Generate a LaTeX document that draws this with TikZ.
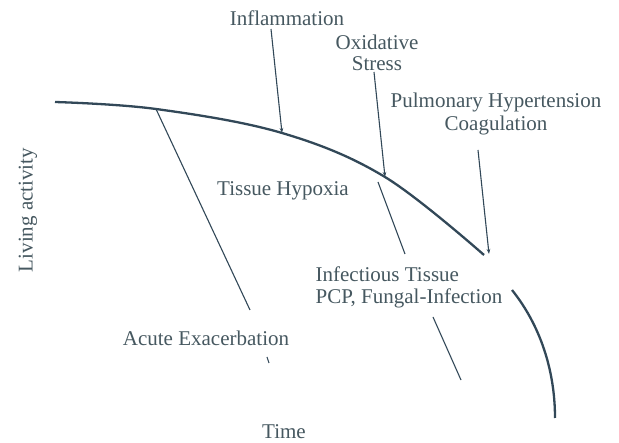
\documentclass[tikz,border=0pt]{standalone}
\usepackage{fontspec}
\setmainfont{Liberation Serif}
\usetikzlibrary{arrows.meta}
\definecolor{ink}{RGB}{70,88,96}
\definecolor{lineink}{RGB}{50,72,88}
\begin{document}
\begin{tikzpicture}[x=1pt,y=-1pt,
  lbl/.style={text=ink,font=\fontsize{21}{25}\selectfont,inner sep=0pt,align=center},
  curveline/.style={draw=lineink,line width=2.3pt},
  conn/.style={draw=lineink,line width=1.1pt},
  arr/.style={conn,-{Stealth[length=5pt,width=3.5pt]}}]
\useasboundingbox[fill=white] (0,0) rectangle (619,443);
% curve points
\coordinate (c0) at (55,102);
\coordinate (cA) at (156,109);
\coordinate (cI) at (282,133);
\coordinate (cO) at (385,177);
\coordinate (cF) at (378,182);
\coordinate (cE) at (484,255);
\coordinate (d0) at (512,290);
\coordinate (d1) at (555,418);
\draw[curveline] plot[smooth,tension=0.6] coordinates {(c0) (cA) (cI) (cO) (cE)};
\draw[curveline] (d0) .. controls (540,325) and (555,370) .. (d1);
% labels
\node[lbl] (infl) at (287,18) {Inflammation};
\node[lbl] (oxi) at (377,53) {Oxidative\\[-4pt]Stress};
\node[lbl] (pulm) at (496,114) {Pulmonary Hypertension\\[-2pt]Coagulation};
\node[lbl] (hyp) at (283,191) {Tissue Hypoxia};
\node[lbl,align=left] (inf) at (409,287) {Infectious Tissue\\[-3pt]PCP, Fungal-Infection};
\node[lbl] (acute) at (206,338) {Acute Exacerbation};
\node[lbl] (time) at (284,432) {Time};
\node[lbl,rotate=90] (living) at (28,210) {Living activity};
% connectors
\coordinate (iT) at (271,29);
\coordinate (oT) at (374,72);
\coordinate (pT) at (478,150);
\coordinate (pE) at (489,254);
\coordinate (aE) at (250,310);
\coordinate (fE) at (405,254);
\coordinate (g0) at (433,317);
\coordinate (g1) at (461,380);
\coordinate (t0) at (267,357);
\coordinate (t1) at (269,363);
\draw[arr] (iT) -- (cI);
\draw[arr] (oT) -- (cO);
\draw[arr] (pT) -- (pE);
\draw[conn] (cA) -- (aE);
\draw[conn] (cF) -- (fE);
\draw[conn] (g0) -- (g1);
\draw[conn] (t0) -- (t1);
\end{tikzpicture}
\end{document}
